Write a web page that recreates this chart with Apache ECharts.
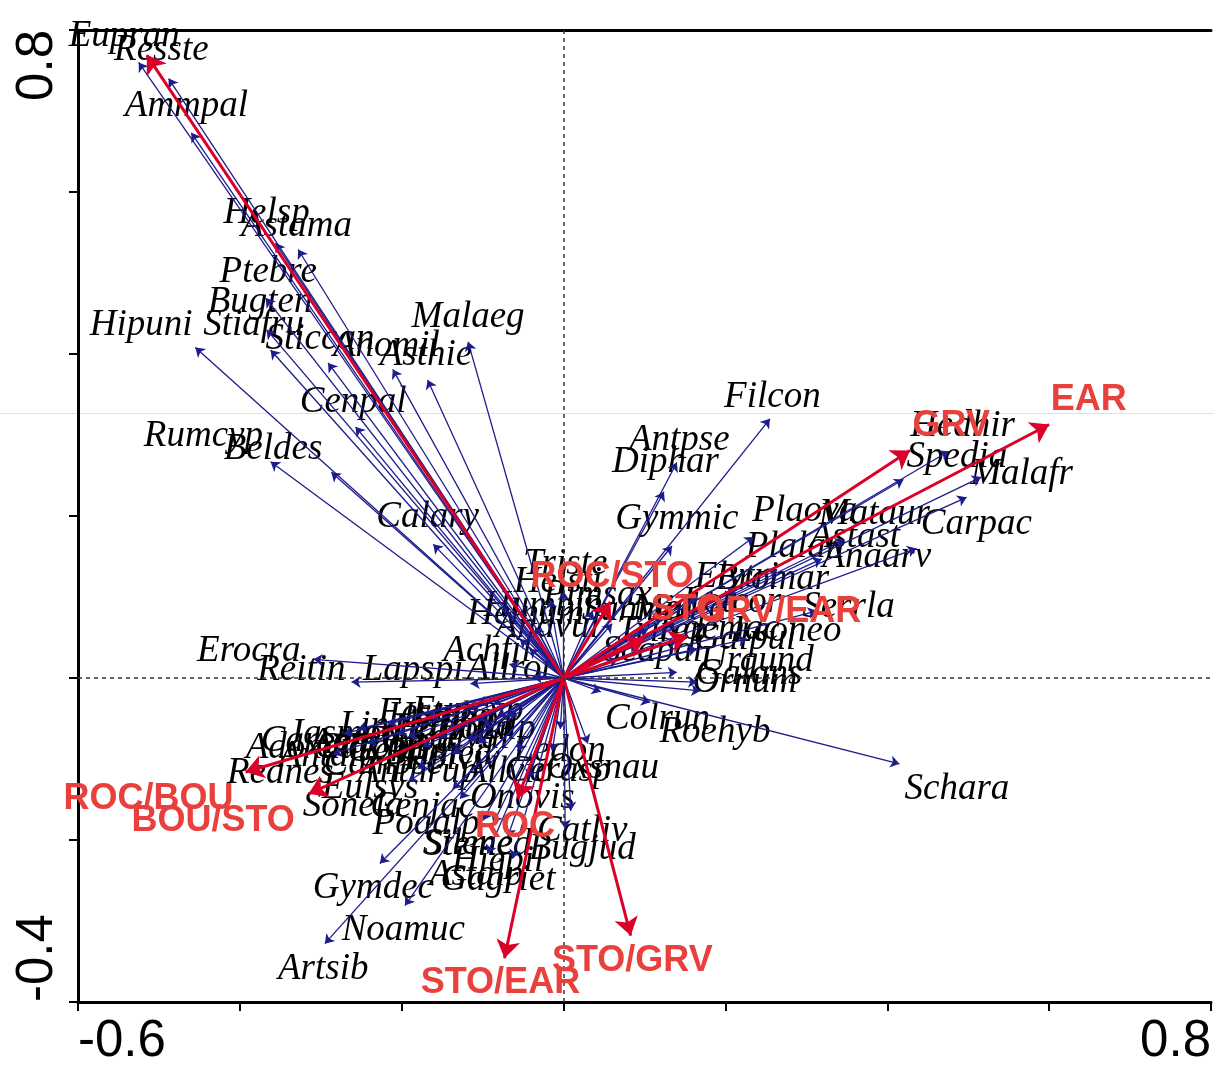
<!DOCTYPE html>
<html>
<head>
<meta charset="utf-8">
<script src="https://cdn.jsdelivr.net/npm/echarts@6/dist/echarts.min.js"></script>
<style>
html,body{margin:0;padding:0;background:#fff;}
#main{width:1214px;height:1067px;}
</style>
</head>
<body>
<div id="main"></div>
<script>
// species: arrow tip and label anchor (axis units)
var spNames = ['Eupran','Resste','Ammpal','Helsp','Astama','Ptebre','Bugten','Stiafru','Sticcan','Anomil',
  'Asthie','Malaeg','Hipuni','Cenpal','Rumcyp','Beldes','Calary',
  'Filcon','Antpse','Diphar','Gymmic','Plaova','Mataur','Astast','Plalan','Anaarv',
  'Hedhir','Spedia','Malafr','Carpac','Serrla','Bromar','Elytri','Leoneo','Galpul','Urgund',
  'Galans','Ornum','Colrun','Roehyb','Schara',
  'Triste','Helsti','Humbin','Helnum','Andvul','Sanmin','Medfal','Lotcor','Trirep','Koemac','Scapal','Pimsax',
  'Erocra','Reitin','Lapspi','Achfil','Allrot',
  'Adoxal','Jasmon','Linalp','Hieplo','Eupcyp','Thypul','Carcar','Koeval','Antdio','Brimed','Lotalp',
  'Festuc','Anthyl','Gentia','Polviv','Carsem','Trifla','Campsc','Leuvul',
  'Rednes','Eulsys','Sonela','Anthrup','Cenjac','Poaalp','Onovis','Allvic','Ledon','Oxsnau','Cerasp',
  'Catliv','Bugjud','Silene','Stemed','Hiepil','Astalp','Gagriet','Gymdec','Noamuc','Artsib'];
var spTips = [[-0.525,0.760],[-0.488,0.740],[-0.460,0.673],[-0.356,0.537],[-0.328,0.529],[-0.368,0.469],
  [-0.367,0.430],[-0.362,0.405],[-0.291,0.389],[-0.211,0.381],
  [-0.168,0.368],[-0.118,0.415],[-0.455,0.408],[-0.257,0.310],[-0.362,0.267],[-0.287,0.254],[-0.161,0.165],
  [0.255,0.320],[0.140,0.266],[0.124,0.230],[0.134,0.163],[0.235,0.174],[0.347,0.171],[0.319,0.147],
  [0.264,0.134],[0.436,0.160],
  [0.476,0.280],[0.420,0.245],[0.516,0.248],[0.498,0.223],[0.313,0.083],[0.214,0.110],[0.165,0.100],
  [0.227,0.048],[0.165,0.036],[0.140,0.007],
  [0.165,-0.005],[0.169,-0.016],[0.046,-0.017],[0.107,-0.030],[0.415,-0.106],
  [0.000,0.107],[-0.017,0.097],[-0.035,0.063],[-0.054,0.048],[-0.042,0.036],[0.060,0.067],[0.104,0.060],
  [0.122,0.076],[0.091,0.042],[0.140,0.046],[0.067,0.023],[0.036,0.083],
  [-0.309,0.023],[-0.262,-0.005],[-0.115,-0.007],[-0.067,0.017],[-0.038,0.001],
  [-0.272,-0.069],[-0.217,-0.057],[-0.168,-0.048],[-0.118,-0.038],[-0.087,-0.032],[-0.143,-0.063],
  [-0.192,-0.073],[-0.100,-0.060],[-0.242,-0.081],[-0.118,-0.078],[-0.069,-0.048],
  [-0.106,-0.032],[-0.205,-0.069],[-0.155,-0.073],[-0.106,-0.081],[-0.254,-0.063],[-0.081,-0.048],
  [-0.174,-0.085],[-0.106,-0.053],
  [-0.285,-0.094],[-0.180,-0.112],[-0.192,-0.128],[-0.137,-0.094],[-0.137,-0.137],[-0.128,-0.149],
  [-0.044,-0.124],[-0.057,-0.090],[-0.004,-0.063],[0.030,-0.081],[-0.014,-0.090],
  [0.009,-0.164],[0.002,-0.186],[-0.100,-0.176],[-0.087,-0.180],[-0.069,-0.196],[-0.094,-0.217],
  [-0.063,-0.223],[-0.227,-0.229],[-0.196,-0.281],[-0.295,-0.328]];
var spLabels = [[-0.543,0.792],[-0.497,0.775],[-0.466,0.706],[-0.367,0.574],[-0.330,0.558],[-0.365,0.501],
  [-0.375,0.464],[-0.383,0.435],[-0.301,0.418],[-0.219,0.410],
  [-0.170,0.399],[-0.118,0.445],[-0.522,0.436],[-0.260,0.341],[-0.445,0.299],[-0.359,0.282],[-0.168,0.198],
  [0.258,0.347],[0.143,0.294],[0.126,0.266],[0.140,0.196],[0.298,0.206],[0.384,0.202],[0.360,0.174],
  [0.286,0.161],[0.387,0.149],
  [0.493,0.311],[0.486,0.272],[0.566,0.251],[0.510,0.190],[0.352,0.087],[0.258,0.122],[0.214,0.124],
  [0.276,0.058],[0.224,0.048],[0.239,0.021],
  [0.229,0.004],[0.224,-0.005],[0.116,-0.051],[0.187,-0.067],[0.486,-0.137],
  [0.002,0.140],[-0.007,0.118],[-0.025,0.089],[-0.047,0.079],[-0.020,0.063],[0.091,0.083],[0.150,0.085],
  [0.208,0.094],[0.122,0.058],[0.192,0.060],[0.110,0.033],[0.042,0.102],
  [-0.389,0.033],[-0.324,0.009],[-0.186,0.009],[-0.094,0.033],[-0.067,0.011],
  [-0.328,-0.087],[-0.272,-0.069],[-0.217,-0.060],[-0.155,-0.048],[-0.118,-0.041],[-0.186,-0.078],
  [-0.242,-0.087],[-0.131,-0.075],[-0.291,-0.097],[-0.155,-0.094],[-0.094,-0.063],
  [-0.168,-0.044],[-0.254,-0.081],[-0.205,-0.090],[-0.137,-0.100],[-0.303,-0.078],[-0.112,-0.060],
  [-0.223,-0.107],[-0.149,-0.063],
  [-0.350,-0.118],[-0.239,-0.136],[-0.260,-0.158],[-0.180,-0.116],[-0.174,-0.159],[-0.170,-0.181],
  [-0.051,-0.149],[-0.069,-0.116],[-0.005,-0.091],[0.048,-0.112],[-0.007,-0.115],
  [0.023,-0.189],[0.023,-0.211],[-0.118,-0.205],[-0.106,-0.207],[-0.081,-0.226],[-0.108,-0.243],
  [-0.081,-0.250],[-0.235,-0.260],[-0.198,-0.312],[-0.297,-0.359]];

// environmental variables
var envNames = ['BOU','EAR','GRV','ROC/STO','STO','GRV/EAR','ROC/BOU','BOU/STO','ROC','STO/EAR','STO/GRV'];
var envTips = [[-0.515,0.769],[0.600,0.313],[0.428,0.281],[0.058,0.094],[0.100,0.048],[0.153,0.052],
  [-0.393,-0.116],[-0.315,-0.143],[-0.057,-0.149],[-0.073,-0.346],[0.083,-0.318]];
var envLabels = [[-0.513,0.812],[0.649,0.343],[0.479,0.311],[0.060,0.124],[0.153,0.084],[0.267,0.081],
  [-0.513,-0.149],[-0.433,-0.177],[-0.060,-0.184],[-0.078,-0.377],[0.085,-0.349]];

var xShown = [-0.6, 0.8];
var yShown = [-0.4, 0.8];

function onlyEnds(list){
  return function(v){
    for(var i=0;i<list.length;i++){
      if(Math.abs(v-list[i])<1e-6) return list[i].toFixed(1);
    }
    return '';
  };
}

var myChart = echarts.init(document.getElementById('main'));

var spArrows = [], spText = [], envArrows = [], envText = [];
for(var i=0;i<spNames.length;i++){
  spArrows.push({coords:[[0,0],spTips[i]]});
  spText.push({name:spNames[i], value:spLabels[i]});
}
for(var k=0;k<envNames.length;k++){
  envArrows.push({coords:[[0,0],envTips[k]]});
  envText.push({name:envNames[k], value:envLabels[k]});
}

var axisFont = {fontFamily:'Liberation Sans', fontSize:51, color:'#000'};

option = {
  animation:false,
  backgroundColor:'#fff',
  grid:{left:78, right:0, top:30, bottom:63},
  graphic:[{
    type:'line', z:0, silent:true,
    shape:{x1:0,y1:413.5,x2:1214,y2:413.5},
    style:{stroke:'#e2e0d8', lineWidth:1}
  }],
  xAxis:[{
    type:'value', min:-0.6, max:0.8, interval:0.2, position:'bottom',
    axisLine:{onZero:false, lineStyle:{color:'#000', width:3}},
    axisTick:{inside:false, length:9, lineStyle:{color:'#000', width:2}},
    splitLine:{show:false},
    axisLabel:Object.assign({margin:14, formatter:onlyEnds(xShown), alignMinLabel:'left', alignMaxLabel:'right'}, axisFont)
  },{
    type:'value', min:-0.6, max:0.8, position:'top',
    axisLine:{onZero:false, lineStyle:{color:'#000', width:3}},
    axisTick:{show:false}, axisLabel:{show:false}, splitLine:{show:false}
  }],
  yAxis:{
    type:'value', min:-0.4, max:0.8, interval:0.2,
    axisLine:{onZero:false, lineStyle:{color:'#000', width:3}},
    axisTick:{inside:false, length:9, lineStyle:{color:'#000', width:2}},
    splitLine:{show:false},
    axisLabel:Object.assign({margin:15, rotate:90, formatter:onlyEnds(yShown), alignMinLabel:'left', alignMaxLabel:'right'}, axisFont)
  },
  series:[
    {
      // species names
      type:'scatter', z:2, silent:true,
      symbolSize:1, itemStyle:{color:'rgba(0,0,0,0)', opacity:1},
      data:spText,
      label:{show:true, position:'inside', formatter:function(p){return p.name;},
        fontFamily:'Liberation Serif', fontStyle:'italic', fontSize:37, color:'#000'},
      markLine:{
        silent:true, symbol:['none','none'], label:{show:false},
        lineStyle:{type:[4,4], color:'#333', width:1.5, opacity:1},
        data:[{xAxis:0},{yAxis:0}]
      }
    },
    {
      type:'lines', coordinateSystem:'cartesian2d', z:3, silent:true,
      symbol:['none','arrow'], symbolSize:[0,9],
      lineStyle:{color:'#1c1c8c', width:1.3, opacity:1, curveness:0},
      data:spArrows
    },
    {
      type:'lines', coordinateSystem:'cartesian2d', z:4, silent:true,
      symbol:['none','arrow'], symbolSize:[0,18],
      lineStyle:{color:'#dc0028', width:3, opacity:1, curveness:0},
      data:envArrows
    },
    {
      // environmental variable names
      type:'scatter', z:5, silent:true,
      symbolSize:1, itemStyle:{color:'rgba(0,0,0,0)', opacity:1},
      data:envText,
      label:{show:true, position:'inside', formatter:function(p){return p.name;},
        fontFamily:'Liberation Sans', fontWeight:'bold', fontSize:36, color:'#e8403c'}
    }
  ]
};
myChart.setOption(option);
</script>
</body>
</html>
